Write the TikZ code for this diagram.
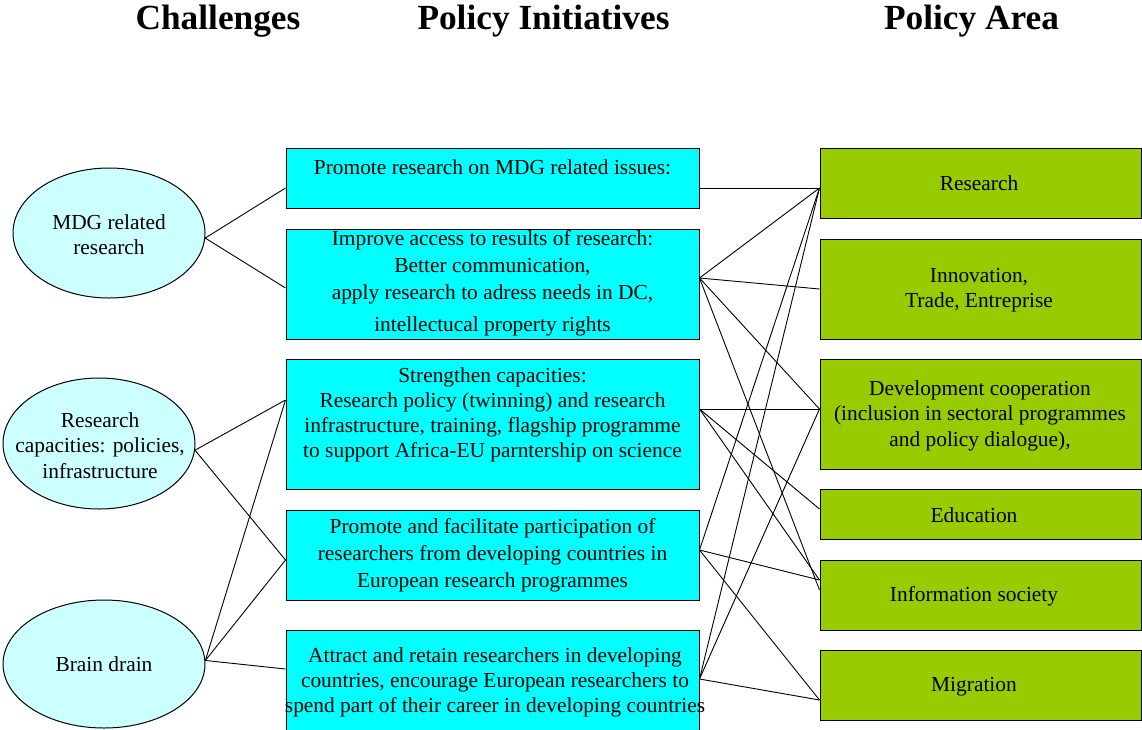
\documentclass[tikz,border=0pt]{standalone}
\usepackage{fontspec}
\setmainfont{Liberation Serif}
\usetikzlibrary{shapes.geometric,calc}
\definecolor{cyanbox}{HTML}{00FFFF}
\definecolor{ellfill}{HTML}{CCFFFF}
\definecolor{greenbox}{HTML}{99CC00}
\begin{document}
\begin{tikzpicture}[x=1pt,y=-1pt,
  pibox/.style={draw=black, line width=1pt, fill=cyanbox, minimum width=413pt, inner sep=0pt},
  areabox/.style={draw=black, line width=1pt, fill=greenbox, minimum width=321pt, inner sep=0pt},
  chall/.style={ellipse, draw=black, line width=1pt, fill=ellfill, inner sep=0pt},
  txt/.style={inner sep=0pt, align=center, font=\fontsize{21.4}{25.5}\selectfont},
  txtn/.style={inner sep=0pt, align=center, font=\fontsize{21.4}{25}\selectfont},
  txtw/.style={inner sep=0pt, align=center, font=\fontsize{21.4}{27}\selectfont},
  head/.style={inner sep=0pt, font=\bfseries\fontsize{35.3}{42}\selectfont},
  conn/.style={draw=black, line width=0.9pt}]
\useasboundingbox[fill=white] (0,0) rectangle (1142,729);

% headers
\node[head] (h1) at (218,21) {Challenges};
\node[head] (h2) at (543.5,21) {Policy Initiatives};
\node[head] (h3) at (971.5,21) {Policy Area};

% challenges
\node[chall, minimum width=192pt, minimum height=130pt] (mdg) at (109,233) {};
\node[chall, minimum width=192pt, minimum height=131pt] (rc) at (99,443.5) {};
\node[chall, minimum width=202pt, minimum height=128pt] (bd) at (104,664) {};
\node[txtn] (mdgt) at (109,234.5) {MDG related\\research};
\node[txt] (rct) at (100,445.5) {Research\\capacities: policies,\\infrastructure};
\node[txt] (bdt) at (104,664) {Brain drain};

% policy initiatives
\node[pibox, minimum height=60pt] (b1) at (492.5,178) {};
\node[pibox, minimum height=110pt] (b2) at (492.5,284) {};
\node[pibox, minimum height=130pt] (b3) at (492.5,424) {};
\node[pibox, minimum height=90pt] (b4) at (492.5,555) {};
\node[pibox, minimum height=105pt] (b5) at (492.5,682.5) {};

\node[txt] (b1t) at (492.5,167) {Promote research on MDG related issues:};
\node[txtw] (b2t) at (492.5,283.5) {Improve access to results of research:\\Better communication,\\apply research to adress needs in DC,\\[5pt]intellectucal property rights};
\node[txtn] (b3t) at (492.5,414.5) {Strengthen capacities:\\Research policy (twinning) and research\\infrastructure, training, flagship programme\\to support Africa-EU parntership on science};
\node[txtw] (b4t) at (492.5,555) {Promote and facilitate participation of\\researchers from developing countries in\\European research programmes};
\node[txtn] (b5t) at (495,682) {Attract and retain researchers in developing\\countries, encourage European researchers to\\spend part of their career in developing countries};

% policy areas
\node[areabox, minimum height=70pt] (ar) at (980.5,183) {};
\node[areabox, minimum height=100pt] (ai) at (980.5,289) {};
\node[areabox, minimum height=110pt] (ad) at (980.5,414) {};
\node[areabox, minimum height=50pt] (ae) at (980.5,514) {};
\node[areabox, minimum height=70pt] (ais) at (980.5,595) {};
\node[areabox, minimum height=70pt] (am) at (980.5,685) {};

\node[txt] (art) at (979,183.5) {Research};
\node[txtn] (ait) at (979,290) {Innovation,\\Trade, Entreprise};
\node[txt] (adt) at (980,415.5) {Development cooperation\\(inclusion in sectoral programmes\\and policy dialogue),};
\node[txt] (aet) at (974,515) {Education};
\node[txt] (aist) at (974,596.5) {Information society};
\node[txt] (amt) at (974,687) {Migration};

% connection points
\coordinate (mdgP) at (mdg.-3);
\coordinate (rcP) at (rc.-4);
\coordinate (bdP) at (bd.2);
\coordinate (b1L) at ($(b1.west)+(0,10)$);
\coordinate (b2L) at ($(b2.west)+(0,4)$);
\coordinate (b3L) at ($(b3.west)+(0,-24)$);
\coordinate (b4L) at ($(b4.west)+(0,5)$);
\coordinate (b5L) at ($(b5.west)+(0,-13.5)$);
\coordinate (b1R) at ($(b1.east)+(0,10)$);
\coordinate (b2R) at ($(b2.east)+(0,-6)$);
\coordinate (b3R) at ($(b3.east)+(0,-15)$);
\coordinate (b4R) at ($(b4.east)+(0,-5)$);
\coordinate (b5R) at ($(b5.east)+(0,-3.5)$);
\coordinate (arL) at ($(ar.west)+(0,5)$);
\coordinate (aiL) at (ai.west);
\coordinate (adL) at ($(ad.west)+(0,-5)$);
\coordinate (aeL) at ($(ae.west)+(0,-5)$);
\coordinate (aisL) at ($(ais.west)+(0,-15)$);
\coordinate (aisL2) at ($(ais.west)+(0,-5)$);
\coordinate (amL) at ($(am.west)+(0,15)$);

% left connectors
\draw[conn] (mdgP) -- (b1L);
\draw[conn] (mdgP) -- (b2L);
\draw[conn] (rcP) -- (b3L);
\draw[conn] (rcP) -- (b4L);
\draw[conn] (bdP) -- (b3L);
\draw[conn] (bdP) -- (b4L);
\draw[conn] (bdP) -- (b5L);

% right connectors
\draw[conn] (b1R) -- (arL);
\draw[conn] (b2R) -- (arL);
\draw[conn] (b2R) -- (aiL);
\draw[conn] (b2R) -- (adL);
\draw[conn] (b2R) -- (aisL2);
\draw[conn] (b3R) -- (adL);
\draw[conn] (b3R) -- (aeL);
\draw[conn] (b3R) -- (aisL);
\draw[conn] (b4R) -- (arL);
\draw[conn] (b4R) -- (aisL);
\draw[conn] (b4R) -- (amL);
\draw[conn] (b5R) -- (arL);
\draw[conn] (b5R) -- (adL);
\draw[conn] (b5R) -- (amL);
\end{tikzpicture}
\end{document}
